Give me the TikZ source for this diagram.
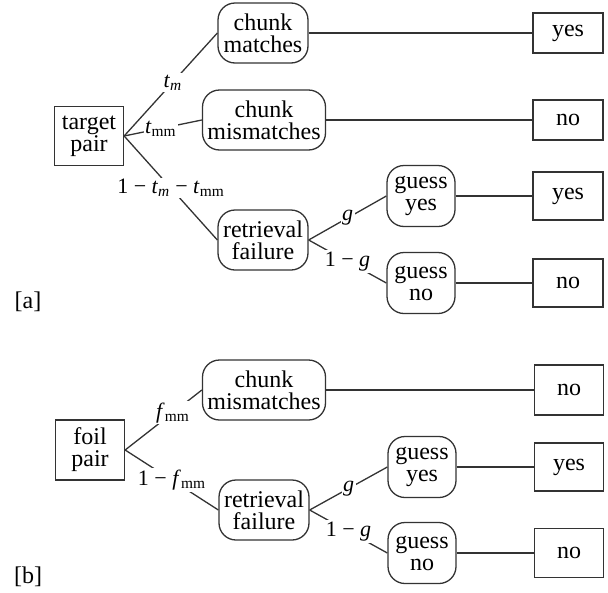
\documentclass[tikz,border=0pt]{standalone}
\usepackage{fontspec}
\setmainfont{Liberation Serif}
\newcommand{\lsub}[1]{\textsubscript{#1}}
\begin{document}
\begin{tikzpicture}[x=1pt,y=-1pt,
  every node/.style={font=\fontsize{24}{26}\selectfont, align=center},
  sqbox/.style={draw=black!80, line width=1.3pt, inner sep=2pt},
  rbox/.style={draw=black!80, line width=1.3pt, rounded corners=17pt, minimum height=60pt, inner sep=2pt},
  conn/.style={draw=black!80, line width=1.3pt},
  lab/.style={fill=white, inner sep=1.5pt, font=\fontsize{22}{24}\selectfont}
]
\useasboundingbox (0,0) rectangle (608,592);
% ---------- [a] ----------
\node[sqbox, minimum width=69pt, minimum height=59pt] (tp) at (89,136) {target\\[-4pt]pair};
\node[rbox, minimum width=90pt] (cm) at (263,33) {chunk\\[-4pt]matches};
\node[rbox, minimum width=123pt] (cmm) at (264,120) {chunk\\[-4pt]mismatches};
\node[rbox, minimum width=90pt] (rf) at (263,240) {retrieval\\[-4pt]failure};
\node[rbox, minimum width=68pt, minimum height=61pt] (gy) at (421,196) {guess\\[-4pt]yes};
\node[rbox, minimum width=68pt, minimum height=61pt] (gn) at (421,283) {guess\\[-4pt]no};
\node[sqbox, minimum width=70pt, minimum height=40pt] (y1) at (568,33) {yes};
\node[sqbox, minimum width=70pt, minimum height=40pt] (n1) at (568,120) {no};
\node[sqbox, minimum width=70pt, minimum height=48pt] (y2) at (568,196) {yes};
\node[sqbox, minimum width=70pt, minimum height=48pt] (n2) at (568,283) {no};
\node (la) at (28,302) {[a]};

\draw[conn] (tp.east) -- node[lab, pos=0.52] {\textit{t}\lsub{\textit{m}}} (cm.west);
\draw[conn] (tp.east) -- node[lab, pos=0.47] {\textit{t}\lsub{mm}} (cmm.west);
\draw[conn] (tp.east) -- node[lab, pos=0.5] {1 − \textit{t}\lsub{\textit{m}} − \textit{t}\lsub{mm}} (rf.west);
\draw[conn] (rf.east) -- node[lab] {\textit{g}} (gy.west);
\draw[conn] (rf.east) -- node[lab] {1 − \textit{g}} (gn.west);
\draw[conn] (cm.east) -- (y1.west);
\draw[conn] (cmm.east) -- (n1.west);
\draw[conn] (gy.east) -- (y2.west);
\draw[conn] (gn.east) -- (n2.west);

% ---------- [b] ----------
\node[sqbox, minimum width=69pt, minimum height=60pt] (fp) at (90,450) {foil\\[-4pt]pair};
\node[rbox, minimum width=123pt] (bcmm) at (264,390) {chunk\\[-4pt]mismatches};
\node[rbox, minimum width=90pt] (brf) at (264,510) {retrieval\\[-4pt]failure};
\node[rbox, minimum width=68pt, minimum height=61pt] (bgy) at (422,467) {guess\\[-4pt]yes};
\node[rbox, minimum width=68pt, minimum height=61pt] (bgn) at (422,553) {guess\\[-4pt]no};
\node[sqbox, minimum width=69pt, minimum height=50pt] (bn1) at (569,390) {no};
\node[sqbox, minimum width=69pt, minimum height=48pt] (by) at (569,467) {yes};
\node[sqbox, minimum width=69pt, minimum height=49pt] (bn2) at (569,553) {no};
\node (lb) at (28,577) {[b]};

\draw[conn] (fp.east) -- node[lab, pos=0.62] {\textit{f}\lsub{mm}} (bcmm.west);
\draw[conn] (fp.east) -- node[lab, pos=0.5] {1 − \textit{f}\lsub{mm}} (brf.west);
\draw[conn] (brf.east) -- node[lab] {\textit{g}} (bgy.west);
\draw[conn] (brf.east) -- node[lab] {1 − \textit{g}} (bgn.west);
\draw[conn] (bcmm.east) -- (bn1.west);
\draw[conn] (bgy.east) -- (by.west);
\draw[conn] (bgn.east) -- (bn2.west);
\end{tikzpicture}
\end{document}
